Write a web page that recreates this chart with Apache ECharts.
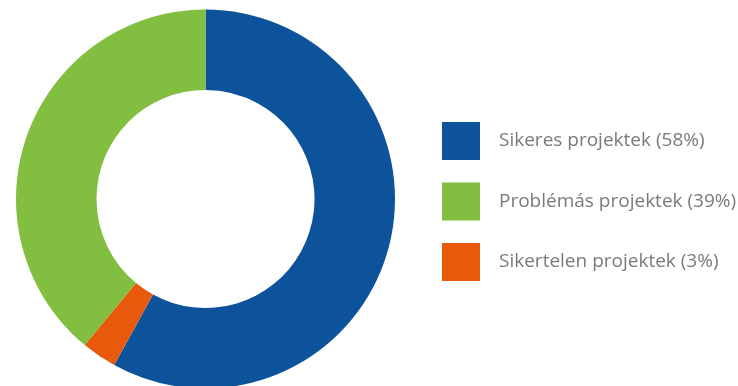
<!DOCTYPE html>
<html>
<head>
<meta charset="utf-8">
<script src="https://cdn.jsdelivr.net/npm/echarts@6/dist/echarts.min.js"></script>
<style>
  html, body { margin: 0; padding: 0; background: #fff; }
  #chart { width: 738px; height: 386px; }
</style>
</head>
<body>
<div id="chart"></div>
<script>
// Project outcome shares (percent), listed clockwise from 12 o'clock
const categories = ['Sikeres projektek', 'Sikertelen projektek', 'Problémás projektek'];
const values = [58, 3, 39];
const colors = ['#0C539B', '#E8590C', '#82BF41'];
// Legend order
const legendOrder = ['Sikeres projektek', 'Problémás projektek', 'Sikertelen projektek'];

const valueOf = {};
categories.forEach((c, i) => { valueOf[c] = values[i]; });

const chart = echarts.init(document.getElementById('chart'), null, { renderer: 'canvas' });
chart.setOption({
  animation: false,
  legend: {
    orient: 'vertical',
    left: 442,
    top: 122,
    padding: 0,
    itemWidth: 38,
    itemHeight: 38,
    itemGap: 22.5,
    icon: 'rect',
    data: legendOrder,
    formatter: name => name + ' (' + valueOf[name] + '%)',
    textStyle: {
      fontFamily: 'Open Sans',
      fontSize: 19,
      color: '#7a7a7a',
      padding: [0, 0, 0, 14]
    },
    selectedMode: false
  },
  series: [{
    type: 'pie',
    center: [205.5, 199],
    radius: [109, 189.5],
    startAngle: 90,
    clockwise: true,
    label: { show: false },
    labelLine: { show: false },
    emphasis: { disabled: true },
    itemStyle: { borderWidth: 0 },
    data: categories.map((c, i) => ({
      name: c,
      value: values[i],
      itemStyle: { color: colors[i] }
    }))
  }]
});
</script>
</body>
</html>
